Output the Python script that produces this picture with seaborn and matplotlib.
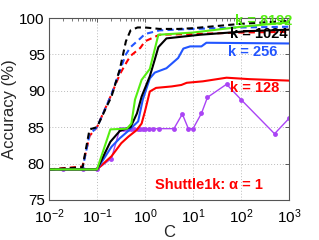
import numpy as np
import pandas as pd
import matplotlib
matplotlib.use("Agg")
import matplotlib.pyplot as plt
import seaborn as sns
from matplotlib.ticker import LogLocator, LogFormatterMathtext, NullFormatter

# ---- data ----
C_dash_black = [0.01, 0.05, 0.07, 0.1, 0.15, 0.2, 0.3, 0.4, 0.5, 0.7, 1, 2, 5, 10, 100, 1000]
acc_dash_black = [79.2, 79.5, 84.7, 85.0, 87.5, 89.2, 93.0, 96.8, 98.3, 98.7, 98.7, 98.5, 98.5, 98.6, 99.2, 99.6]

C_dash_blue = [0.01, 0.05, 0.07, 0.1, 0.2, 0.3, 0.4, 0.5, 0.8, 1, 2, 10, 100, 1000]
acc_dash_blue = [79.2, 79.3, 84.0, 85.0, 89.5, 92.8, 95.0, 96.0, 97.2, 97.8, 98.3, 98.5, 98.7, 98.8]

C_dash_red = [0.01, 0.05, 0.07, 0.1, 0.2, 0.3, 0.42, 0.5, 0.8, 1, 2, 10, 100, 1000]
acc_dash_red = [79.2, 79.6, 83.8, 85.0, 89.5, 92.3, 94.0, 94.8, 95.9, 96.8, 97.7, 97.8, 98.0, 98.1]

C_green = [0.01, 0.1, 0.19, 0.42, 0.52, 0.62, 0.85, 1.26, 1.9, 10, 100, 1000]
acc_green = [79.2, 79.2, 84.7, 84.8, 85.5, 88.8, 91.5, 93.0, 97.7, 98.0, 98.8, 99.4]

C_black = [0.01, 0.1, 0.19, 0.3, 0.5, 0.68, 0.85, 1.26, 1.6, 1.9, 2.8, 14, 150, 1000]
acc_black = [79.2, 79.2, 83.0, 84.5, 85.0, 86.9, 89.2, 92.0, 94.3, 96.0, 97.2, 97.7, 98.2, 98.4]

C_blue = [0.01, 0.1, 0.2, 0.3, 0.45, 0.72, 0.9, 1.26, 1.6, 2.8, 4.9, 6.3, 8.7, 15, 19, 1000]
acc_blue = [79.2, 79.2, 82.3, 83.5, 84.5, 85.8, 88.8, 91.7, 92.5, 93.1, 94.5, 95.8, 96.1, 96.1, 96.6, 96.5]

C_red = [0.01, 0.1, 0.2, 0.32, 0.45, 0.67, 0.85, 1.0, 1.26, 1.7, 3.6, 5.7, 7.4, 16, 50, 150, 1000]
acc_red = [79.2, 79.2, 81.0, 82.8, 83.7, 84.6, 85.5, 87.2, 89.9, 90.4, 90.6, 90.8, 91.1, 91.3, 91.8, 91.6, 91.4]

C_purple = [0.02, 0.05, 0.1, 0.2, 0.3, 0.35, 0.4, 0.45, 0.5, 0.6, 0.7, 0.8, 0.9, 1.0, 1.2, 1.5, 2, 4, 6, 8, 10, 15, 20, 50, 100, 500, 1000]
acc_purple = [79.2, 79.2, 79.2, 80.7, 84.8, 84.8, 84.8, 84.8, 84.8, 84.8, 84.8, 84.8, 84.8, 84.8, 84.8, 84.8, 84.8, 84.8, 86.8, 84.8, 84.8, 86.9, 89.1, 90.9, 88.8, 84.1, 86.2]

labels = ["k = 8192", "k = 1024", "k = 256", "k = 128"]
title_text = "Shuttle1k: "
alpha_text = "α = 1"

# ---- style ----
sns.set_style("white")
plt.rcParams['font.family'] = ['Liberation Sans', 'DejaVu Sans']
plt.rcParams['mathtext.fontset'] = 'custom'
plt.rcParams['mathtext.rm'] = 'Liberation Sans'
plt.rcParams['mathtext.it'] = 'Liberation Sans:italic'
plt.rcParams['mathtext.bf'] = 'Liberation Sans:bold'

GREEN = '#55ee11'
BLUE = '#2255ff'
RED = '#ff0000'
BLACK = '#000000'
PURPLE = '#aa44f5'

fig = plt.figure(figsize=(3.19, 2.40), dpi=100)
ax = fig.add_axes([49/319, 40/240, 240/319, 182/240])

lw = 1.5
sns.lineplot(x=C_purple, y=acc_purple, ax=ax, color=PURPLE, lw=1.0, marker='o',
             markersize=3.5, markeredgewidth=0, estimator=None, sort=False)
for C, a, col in [(C_dash_red, acc_dash_red, RED), (C_dash_blue, acc_dash_blue, BLUE),
                  (C_dash_black, acc_dash_black, BLACK)]:
    sns.lineplot(x=C, y=a, ax=ax, color=col, lw=lw, linestyle=(0, (3, 2)),
                 estimator=None, sort=False)
for C, a, col in [(C_red, acc_red, RED), (C_blue, acc_blue, BLUE),
                  (C_black, acc_black, BLACK), (C_green, acc_green, GREEN)]:
    sns.lineplot(x=C, y=a, ax=ax, color=col, lw=lw, estimator=None, sort=False)

ax.set_xscale('log')
ax.set_xlim(0.01, 1000)
ax.set_ylim(75, 100)
ax.set_yticks([75, 80, 85, 90, 95, 100])
ax.xaxis.set_major_locator(LogLocator(base=10, numticks=10))
ax.xaxis.set_major_formatter(LogFormatterMathtext())
ax.xaxis.set_minor_locator(LogLocator(base=10, subs=np.arange(2, 10), numticks=20))
ax.xaxis.set_minor_formatter(NullFormatter())

ax.grid(True, which='major', linestyle=(0, (1, 2)), color='#bbbbbb', lw=0.7)
ax.tick_params(which='both', direction='in', top=True, right=True, labelsize=11,
               colors='#444444', labelcolor='black')
ax.tick_params(axis='x', which='major', pad=5.5)
ax.tick_params(axis='y', which='major', pad=3)
ax.tick_params(which='major', length=3, width=0.6)
ax.tick_params(which='minor', length=1.8, width=0.5)
for s in ax.spines.values():
    s.set_color('#555555')
    s.set_linewidth(0.8)

ax.set_xlabel('C', fontsize=12, labelpad=-1)
ax.set_ylabel('Accuracy (%)', fontsize=12, labelpad=2)

tk = dict(fontsize=10.5, fontweight='bold', ha='left', va='center')
ax.text(75, 99.6, labels[0], color=GREEN, **tk)
ax.text(58, 97.8, labels[1], color=BLACK, **tk)
ax.text(54, 95.3, labels[2], color=BLUE, **tk)
ax.text(58, 90.4, labels[3], color=RED, **tk)
t = ax.text(1.6, 77.1, title_text, color=RED, **tk)
ax.annotate(alpha_text, xycoords=t, xy=(1, 0.5), va='center', ha='left',
            color=RED, fontsize=10.5, fontweight='bold')

fig.savefig('out.png', dpi=100)
